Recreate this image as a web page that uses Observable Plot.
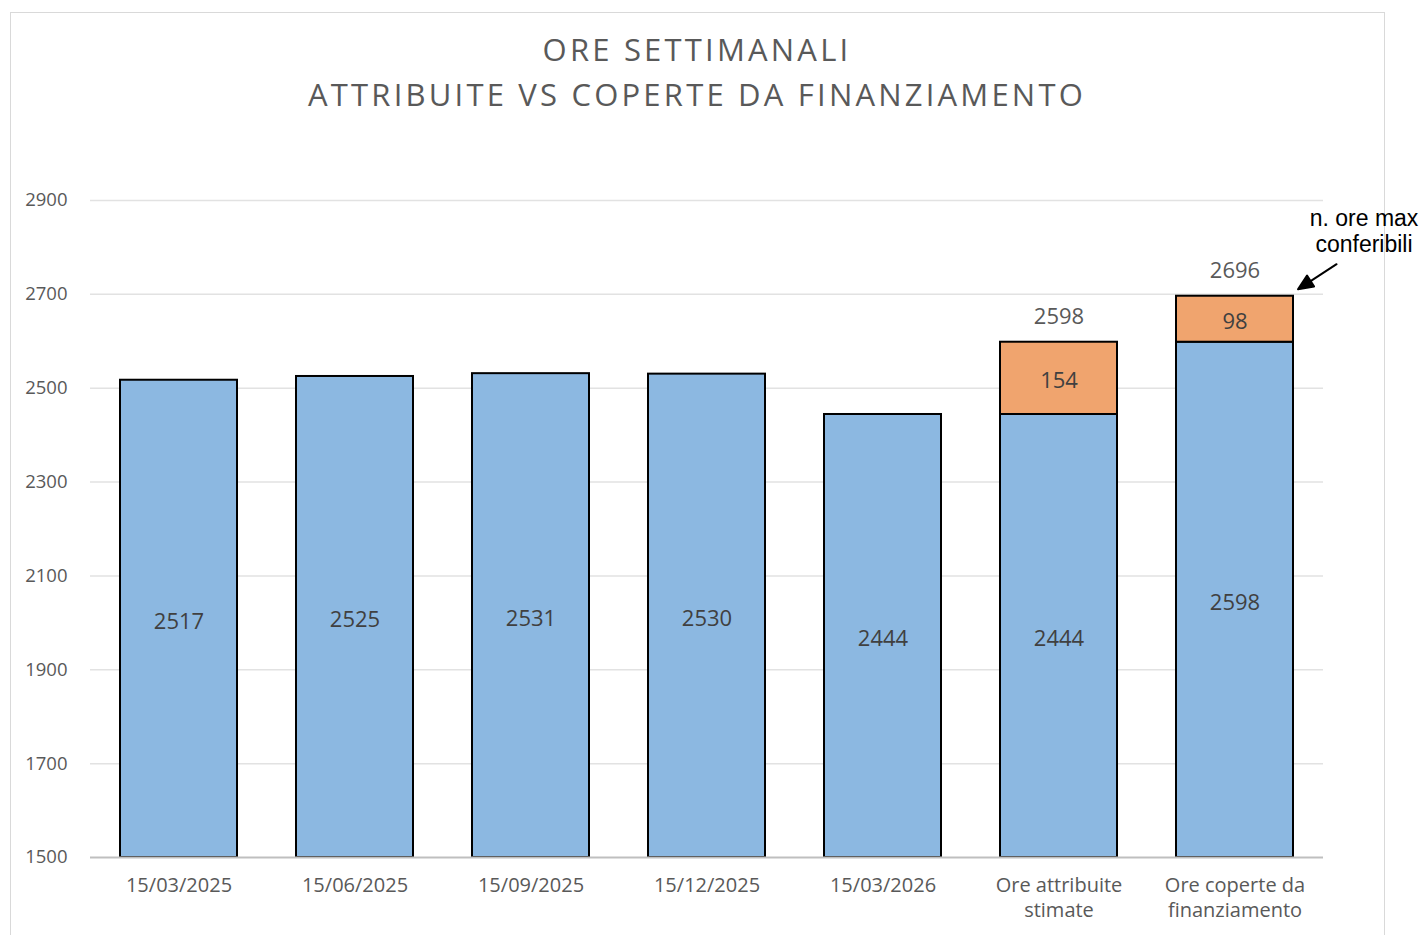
<!DOCTYPE html>
<html><head><meta charset="utf-8">
<script src="https://cdn.jsdelivr.net/npm/d3@7"></script>
<script src="https://cdn.jsdelivr.net/npm/@observablehq/plot@0.6"></script>
<style>
body{margin:0;background:#fff;width:1423px;height:935px;overflow:hidden;position:relative;font-family:"Open Sans",sans-serif;}
#frame{position:absolute;left:10px;top:12px;width:1373px;height:940px;border:1px solid #d9d9d9;box-sizing:content-box;}
#chart{position:absolute;left:0;top:0;}
#title{position:absolute;left:10px;width:1374px;top:27px;text-align:center;color:#595959;font-size:31px;letter-spacing:3.2px;line-height:45px;}
</style></head><body>
<div id="frame"></div>
<div id="chart"></div>
<div id="title">ORE SETTIMANALI<br>ATTRIBUITE VS COPERTE DA FINANZIAMENTO</div>
<script>
const categories = ["15/03/2025","15/06/2025","15/09/2025","15/12/2025","15/03/2026","Ore attribuite\nstimate","Ore coperte da\nfinanziamento"];
const assignedHours = [2517, 2525, 2531, 2530, 2444, 2444, 2598];
const extraHours = [0, 0, 0, 0, 0, 154, 98];
const yTicks = [1500, 1700, 1900, 2100, 2300, 2500, 2700, 2900];
const baseline = 1500;
const annotationText = "n. ore max\nconferibili";

const rows = categories.map((c, i) => ({cat: c, base: assignedHours[i], extra: extraHours[i], total: assignedHours[i] + extraHours[i]}));
const stacked = rows.filter(d => d.extra > 0);
const last = rows[rows.length - 1];

const arrowShape = {
  draw(context, l) {
    context.moveTo(0, 0);
    context.lineTo(0, -l + 10);
    context.moveTo(0, -l);
    context.lineTo(-6.5, -l + 15);
    context.lineTo(6.5, -l + 15);
    context.closePath();
  }
};

const chart = Plot.plot({
  width: 1423, height: 935,
  marginTop: 200, marginBottom: 78, marginLeft: 90, marginRight: 100,
  style: {fontFamily: "Open Sans", background: "transparent", overflow: "visible"},
  x: {domain: categories, paddingInner: 0.335, paddingOuter: 0.17, label: null},
  y: {domain: [1500, 2900], label: null},
  marks: [
    Plot.gridY(yTicks.slice(1), {stroke: "#e2e2e2", strokeOpacity: 1, strokeWidth: 1.5}),
    Plot.axisY({ticks: yTicks, tickFormat: d => String(d), tickSize: 0, tickPadding: 23, fontSize: 18.5, color: "#595959", label: null}),
    Plot.axisX({tickSize: 0, tickPadding: 17, fontSize: 20, color: "#595959", lineHeight: 1.25, label: null}),
    Plot.barY(rows, {x: "cat", y1: baseline, y2: "base", fill: "#8cb8e1", stroke: "black", strokeWidth: 2}),
    Plot.barY(stacked, {x: "cat", y1: "base", y2: "total", fill: "#f0a46e", stroke: "black", strokeWidth: 2}),
    Plot.ruleY([baseline], {stroke: "#bfbfbf", strokeWidth: 2}),
    Plot.text(rows, {x: "cat", y: d => (baseline + d.base) / 2, text: d => String(d.base), dy: 3, fontSize: 22, fill: "#404040"}),
    Plot.text(stacked, {x: "cat", y: d => d.base + d.extra / 2, text: d => String(d.extra), dy: 3, fontSize: 22, fill: "#404040"}),
    Plot.text(stacked, {x: "cat", y: "total", text: d => String(d.total), dy: -25, fontSize: 22, fill: "#595959"}),
    Plot.vector([last], {x: "cat", y: "total", length: 46, rotate: 237, anchor: "end", shape: arrowShape, stroke: "black", fill: "black", strokeWidth: 2, dx: 63, dy: -7}),
    Plot.text([last], {x: "cat", y: "total", text: () => annotationText, dx: 129, dy: -66, lineAnchor: "middle", lineHeight: 1.13, fontSize: 23, fontFamily: "Liberation Sans", fill: "black"})
  ]
});
document.getElementById("chart").appendChild(chart);
</script>
</body></html>
